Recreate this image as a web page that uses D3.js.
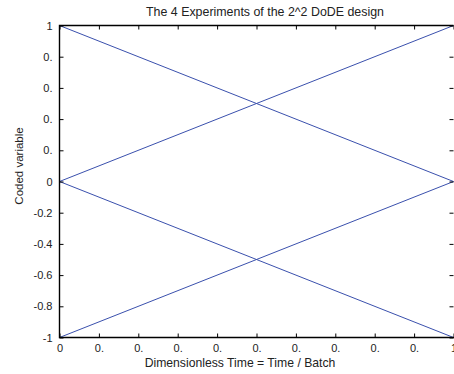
<!DOCTYPE html>
<html>
<head>
<meta charset="utf-8">
<script src="https://cdn.jsdelivr.net/npm/d3@7"></script>
<style>
  body { margin: 0; background: #fff; }
  text { font-family: "Liberation Sans", Arial, sans-serif; fill: #222; }
</style>
</head>
<body>
<div id="chart"></div>
<script>
// données
var temps = [0, 1];
var experience1 = [1, 0];
var experience2 = [0, 1];
var experience3 = [0, -1];
var experience4 = [-1, 0];
var series = [experience1, experience2, experience3, experience4];

var xTicks = [0, 0.1, 0.2, 0.3, 0.4, 0.5, 0.6, 0.7, 0.8, 0.9, 1];
var xTickLabels = ["0", "0.", "0.", "0.", "0.", "0.", "0.", "0.", "0.", "0.", "1"];
var yTicks = [-1, -0.8, -0.6, -0.4, -0.2, 0, 0.2, 0.4, 0.6, 0.8, 1];
var yTickLabels = ["-1", "-0.8", "-0.6", "-0.4", "-0.2", "0", "0.", "0.", "0.", "0.", "1"];

var titre = "The 4 Experiments of the 2^2 DoDE design";
var titreX = "Dimensionless Time = Time / Batch";
var titreY = "Coded variable";

// dimensions
var width = 454, height = 374;
var pos = {"left": 59.5, "right": 453.5, "top": 25.5, "bottom": 337.5};

var svg = d3.select("#chart")
            .append("svg")
            .attr("width", width)
            .attr("height", height);

var x = d3.scaleLinear().domain([0, 1]).range([pos.left, pos.right]);
var y = d3.scaleLinear().domain([-1, 1]).range([pos.bottom, pos.top]);

// courbes
var line = d3.line()
             .x(function(d, i){ return x(temps[i]); })
             .y(function(d){ return y(d); });

svg.append("g")
   .selectAll("path")
   .data(series)
   .enter()
     .append("path")
     .attr("d", line)
     .attr("fill", "none")
     .attr("stroke", "#3a50ad")
     .attr("stroke-width", 1);

// axes
var tickLen = 4;

var axeBas = d3.axisBottom(x).tickValues(xTicks).tickSize(-tickLen).tickPadding(tickLen + 3)
               .tickFormat(function(d, i){ return xTickLabels[i]; });
var axeHaut = d3.axisTop(x).tickValues(xTicks).tickSize(-tickLen).tickFormat("");
var axeGauche = d3.axisLeft(y).tickValues(yTicks).tickSize(-tickLen).tickPadding(tickLen + 3)
                  .tickFormat(function(d, i){ return yTickLabels[i]; });
var axeDroite = d3.axisRight(y).tickValues(yTicks).tickSize(-tickLen).tickFormat("");

function style(g)
{
  g.select(".domain").remove();
  g.selectAll(".tick line").attr("stroke", "#000").attr("stroke-width", 1);
  g.selectAll(".tick text").style("font-size", "11px").attr("fill", "#222")
   .style("font-family", "'Liberation Sans', Arial, sans-serif");
}

svg.append("g").attr("transform", "translate(0," + pos.bottom + ")").call(axeBas).call(style);
svg.append("g").attr("transform", "translate(0," + pos.top + ")").call(axeHaut).call(style);
svg.append("g").attr("transform", "translate(" + pos.left + ",0)").call(axeGauche).call(style);
svg.append("g").attr("transform", "translate(" + pos.right + ",0)").call(axeDroite).call(style);

// cadre
svg.append("path")
   .attr("d", "M" + pos.right + "," + pos.top + "H" + pos.left + "V" + pos.bottom + "H" + (pos.right + 1))
   .attr("fill", "none")
   .attr("stroke", "#000")
   .attr("stroke-width", 1.4);

// textes
svg.append("text")
   .attr("x", 265)
   .attr("y", 16)
   .attr("text-anchor", "middle")
   .style("font-size", "12.4px")
   .text(titre);

svg.append("text")
   .attr("x", 240)
   .attr("y", 367)
   .attr("text-anchor", "middle")
   .style("font-size", "12.2px")
   .text(titreX);

svg.append("text")
   .attr("transform", "translate(23,166) rotate(-90)")
   .attr("text-anchor", "middle")
   .style("font-size", "11.5px")
   .text(titreY);
</script>
</body>
</html>
